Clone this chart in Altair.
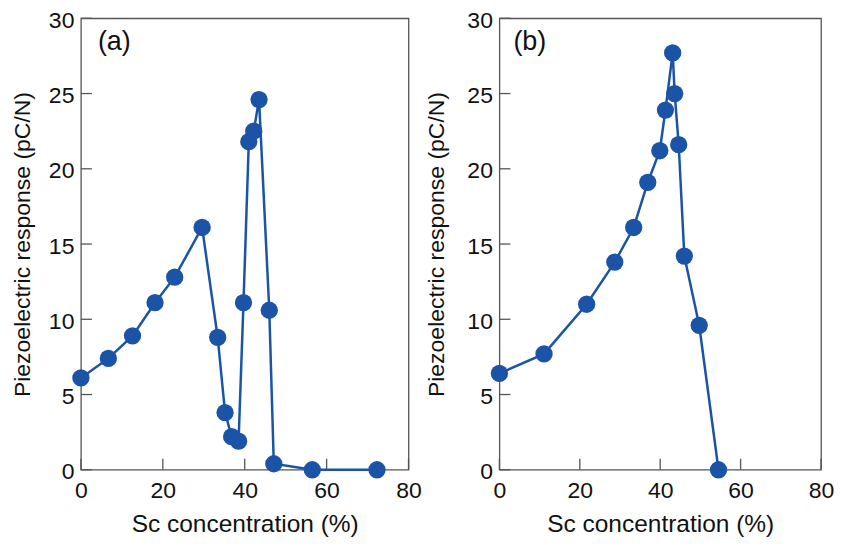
import altair as alt
import pandas as pd

# Panel (a) data
a_x = [0, 6.7, 12.6, 18.1, 22.9, 29.6, 33.4, 35.2, 36.8, 38.5, 39.7, 41.0, 42.2, 43.5, 46.0, 47.1, 56.5, 72.3]
a_y = [6.1, 7.4, 8.9, 11.1, 12.8, 16.1, 8.8, 3.8, 2.2, 1.9, 11.1, 21.8, 22.5, 24.6, 10.6, 0.4, 0.0, 0.0]
# Panel (b) data
b_x = [0, 11.1, 21.7, 28.7, 33.4, 36.9, 39.9, 41.3, 43.1, 43.6, 44.6, 46.0, 49.7, 54.5]
b_y = [6.4, 7.7, 11.0, 13.8, 16.1, 19.1, 21.2, 23.9, 27.7, 25.0, 21.6, 14.2, 9.6, 0.0]

x_ticks = [0, 20, 40, 60, 80]
y_ticks = [0, 5, 10, 15, 20, 25, 30]
panel_labels = ["(a)", "(b)"]
x_title = "Sc concentration (%)"
y_title = "Piezoelectric response (pC/N)"

BLUE = "#1b54a7"
FRAME = "#555555"
FONT = "Liberation Sans"
H = 452


def panel(xs, ys, label, label_dx, W, ytp, xtp):
    df = pd.DataFrame({"x": xs, "y": ys, "order": list(range(len(xs)))})
    xscale = alt.Scale(domain=[0, 80], nice=False, zero=False)
    yscale = alt.Scale(domain=[0, 30], nice=False)
    xax = alt.Axis(values=x_ticks, title=x_title, ticks=False, domain=False, grid=False,
                   labelFlush=False, labelPadding=10, titlePadding=xtp, format="d",
                   titleFontSize=24.5)
    yax = alt.Axis(values=y_ticks, title=y_title, ticks=False, domain=False, grid=False,
                   labelFlush=False, labelPadding=7, titlePadding=ytp, labelOffset=2,
                   format="d", titleFontSize=23)
    base = alt.Chart(df).encode(
        x=alt.X("x:Q", scale=xscale, axis=xax),
        y=alt.Y("y:Q", scale=yscale, axis=yax),
        order=alt.Order("order:Q"),
    )
    line = base.mark_line(color=BLUE, strokeWidth=2.5, clip=False)
    pts = base.mark_circle(color=BLUE, size=300, opacity=1, clip=False)

    xt = alt.Chart(pd.DataFrame({"x": x_ticks})).mark_rule(color=FRAME, strokeWidth=1.3).encode(
        x=alt.X("x:Q", scale=xscale, axis=xax),
        y=alt.value(H), y2=alt.value(H - 11))
    yt = alt.Chart(pd.DataFrame({"y": y_ticks})).mark_rule(color=FRAME, strokeWidth=1.3).encode(
        y=alt.Y("y:Q", scale=yscale, axis=yax),
        x=alt.value(0), x2=alt.value(11))
    txt = alt.Chart(pd.DataFrame({"lab": [label]})).mark_text(
        align="left", baseline="middle", fontSize=27, font=FONT, color="#111").encode(
        text="lab:N", x=alt.value(label_dx), y=alt.value(24))
    return alt.layer(xt, yt, line, pts, txt).properties(width=W, height=H)


pa = panel(a_x, a_y, panel_labels[0], 17, 328, 14, 10)
pb = panel(b_x, b_y, panel_labels[1], 14, 322, 18, 10)

chart = alt.hconcat(pa, pb, spacing=2).properties(
    padding={"top": 0, "left": 2, "right": 0, "bottom": 0}
).configure_view(
    stroke=FRAME, strokeWidth=1.3
).configure_axis(
    labelFont=FONT, labelFontSize=23, labelColor="#111",
    titleFont=FONT, titleFontWeight="normal", titleColor="#111",
)

chart.save("out.html", embed_options={"renderer": "svg", "actions": False})
